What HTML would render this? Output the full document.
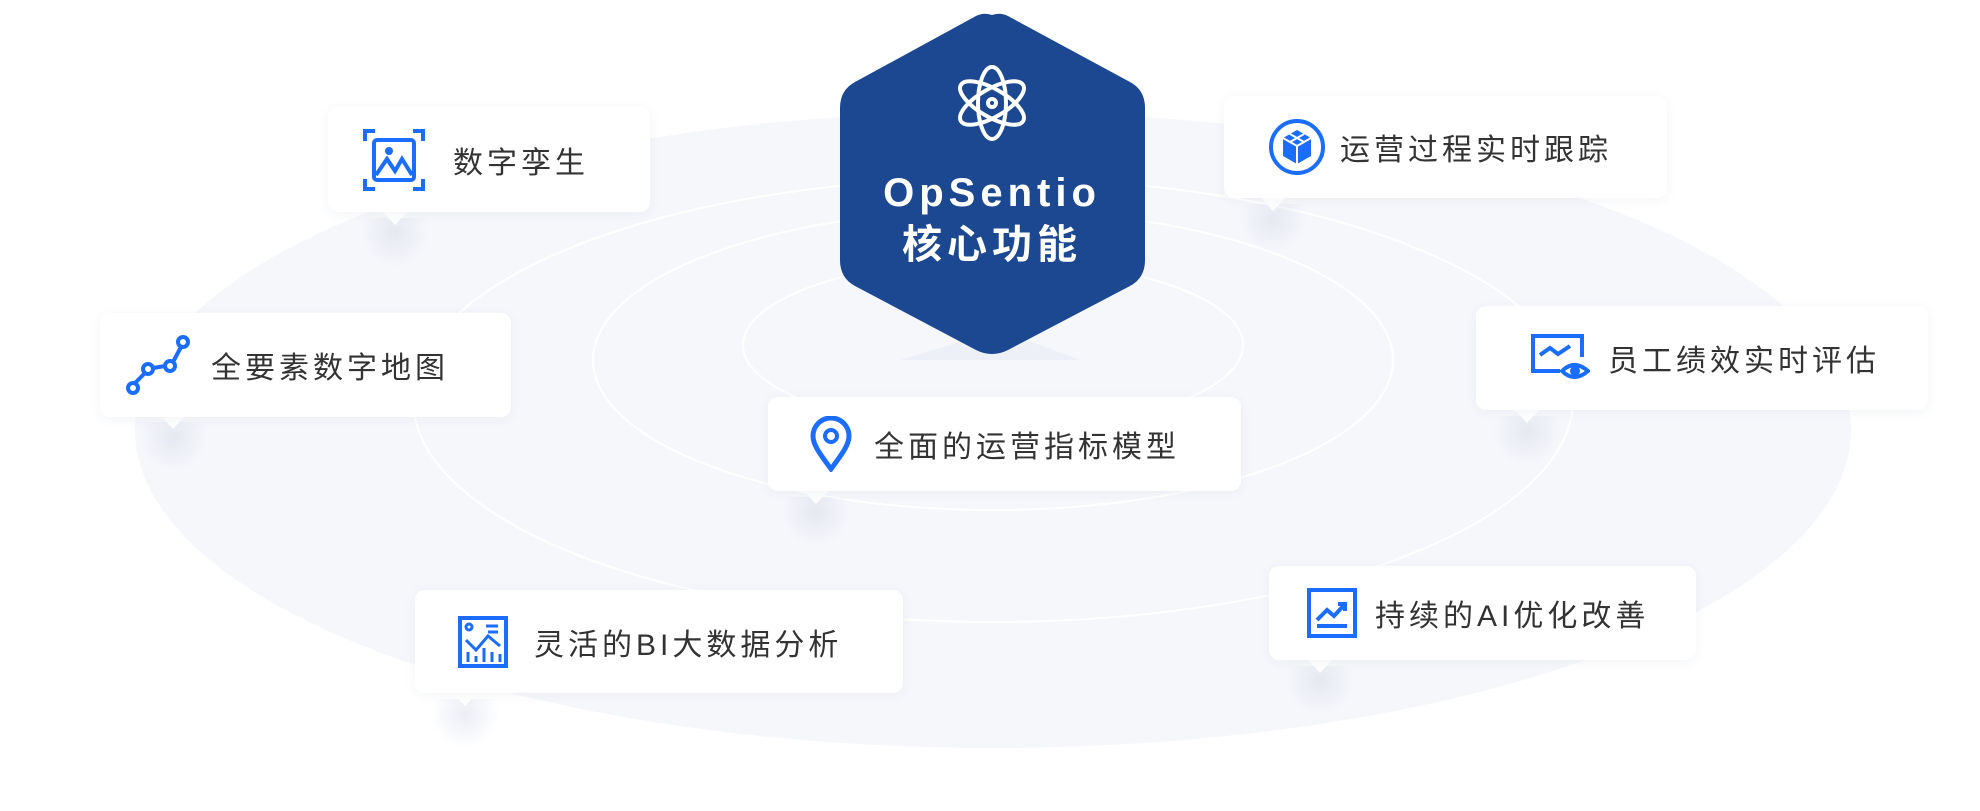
<!DOCTYPE html>
<html><head><meta charset="utf-8"><style>
html,body{margin:0;padding:0;background:#fff;}
body{width:1980px;height:811px;position:relative;overflow:hidden;font-family:"Liberation Sans","Noto Sans CJK SC",sans-serif;}
.card{position:absolute;background:#fff;border-radius:10px;box-shadow:0 2px 12px rgba(40,60,120,0.06);display:flex;align-items:center;color:#333;font-size:30px;letter-spacing:4px;}
.card svg{flex:none;}
.tip{position:absolute;width:0;height:0;border-left:13px solid transparent;border-right:13px solid transparent;border-top:14px solid #fff;}
.shade{position:absolute;width:70px;height:50px;background:radial-gradient(ellipse at 50% 30%,rgba(200,205,225,0.35),rgba(255,255,255,0) 70%);}
</style></head><body>
<svg width="1980" height="811" style="position:absolute;left:0;top:0">
<ellipse cx="993" cy="430" rx="858" ry="318" fill="#f6f7fb"/>
<ellipse cx="993" cy="400" rx="580" ry="222" fill="none" stroke="#fff" stroke-width="2"/>
<ellipse cx="993" cy="360" rx="400" ry="150" fill="none" stroke="#fff" stroke-width="2"/>
<ellipse cx="993" cy="345" rx="250" ry="85" fill="none" stroke="#fff" stroke-width="2"/>
<path d="M900 360 L1080 360 L1000 330 Z" fill="#e8ebf4" opacity="0.6"/>
<path d="M992 15 Q1000 12 1008 16 L1130 82 Q1145 90 1145 108 L1145 260 Q1145 278 1130 286 L1008 350 Q992 358 976 350 L855 286 Q840 278 840 260 L840 108 Q840 90 855 82 L976 16 Q984 12 992 15 Z" fill="#1c4892"/>
<g fill="none" stroke="#fff" stroke-width="4" transform="translate(992,103)">
<ellipse rx="14" ry="36"/>
<ellipse rx="14" ry="36" transform="rotate(60)"/>
<ellipse rx="14" ry="36" transform="rotate(-60)"/>
<circle r="4"/>
</g>
<text x="992" y="206" fill="#fff" font-size="40" font-weight="bold" text-anchor="middle" letter-spacing="5" font-family="Liberation Sans, sans-serif">OpSentio</text>
<text x="992" y="258" fill="#fff" font-size="40" font-weight="bold" text-anchor="middle" letter-spacing="5" font-family="Liberation Sans, Noto Sans CJK SC, sans-serif">核心功能</text>
</svg>

<div class="shade" style="left:360px;top:218px"></div><div class="tip" style="left:382px;top:211px"></div>
<div class="card" style="left:328px;top:107px;width:322px;height:105px;"><svg width="62" height="62" viewBox="0 0 62 62" style="margin-left:35px;margin-right:28px"><g fill="none" stroke="#1a6dff" stroke-width="4"><path d="M2 12V2H12M50 2H60V12M60 50V60H50M12 60H2V50"/><rect x="11" y="11" width="40" height="40" rx="3"/><path d="M13 46L24 30L32 42L39 30L49 46"/></g><circle cx="26" cy="22" r="4" fill="#1a6dff"/></svg>数字孪生</div>

<div class="shade" style="left:1238px;top:204px"></div><div class="tip" style="left:1260px;top:197px"></div>
<div class="card" style="left:1224px;top:96px;width:443px;height:102px;"><svg width="58" height="58" viewBox="0 0 58 58" style="margin-left:44px;margin-right:14px"><circle cx="29" cy="29" r="26" fill="none" stroke="#1a6dff" stroke-width="4"/><path d="M29 12L43 20V38L29 46L15 38V20Z" fill="#1a6dff"/><path d="M15 20L29 28L43 20M29 28V46M22 16L36 24M36 16L22 24" stroke="#fff" stroke-width="2" fill="none"/></svg>运营过程实时跟踪</div>

<div class="shade" style="left:138px;top:422px"></div><div class="tip" style="left:160px;top:415px"></div>
<div class="card" style="left:100px;top:313px;width:411px;height:104px;"><svg width="66" height="66" viewBox="0 0 66 66" style="margin-left:25px;margin-right:20px"><g fill="none" stroke="#1a6dff" stroke-width="4"><circle cx="8" cy="56" r="5"/><circle cx="23" cy="37" r="5"/><circle cx="45" cy="34" r="5"/><circle cx="58" cy="10" r="5"/><path d="M10 51L20 41M28 36L40 34M48 30L56 15"/></g></svg>全要素数字地图</div>

<div class="shade" style="left:1492px;top:416px"></div><div class="tip" style="left:1514px;top:409px"></div>
<div class="card" style="left:1476px;top:306px;width:452px;height:104px;"><svg width="60" height="50" viewBox="0 0 60 50" style="margin-left:54px;margin-right:18px"><g fill="none" stroke="#1a6dff" stroke-width="4"><path d="M30 38H3V3H52V24"/><path d="M10 22L20 15L28 21L40 13"/><path d="M32 38Q44 26 58 38Q44 50 32 38Z"/><circle cx="45" cy="38" r="3" fill="#1a6dff"/></g></svg>员工绩效实时评估</div>

<div class="shade" style="left:781px;top:497px"></div><div class="tip" style="left:803px;top:490px"></div>
<div class="card" style="left:768px;top:397px;width:473px;height:94px;"><svg width="42" height="56" viewBox="0 0 42 56" style="margin-left:42px;margin-right:22px"><path d="M21 53C10 38 3 29 3 20A18 18 0 0 1 39 20C39 29 32 38 21 53Z" fill="none" stroke="#1a6dff" stroke-width="5"/><circle cx="21" cy="20" r="6" fill="none" stroke="#1a6dff" stroke-width="4"/></svg>全面的运营指标模型</div>

<div class="shade" style="left:430px;top:699px"></div><div class="tip" style="left:452px;top:692px"></div>
<div class="card" style="left:415px;top:590px;width:488px;height:103px;"><svg width="50" height="52" viewBox="0 0 50 52" style="margin-left:43px;margin-right:26px"><rect x="2" y="2" width="46" height="48" fill="none" stroke="#1a6dff" stroke-width="4"/><g fill="none" stroke="#1a6dff" stroke-width="3"><circle cx="11" cy="11" r="3"/><path d="M28 10H40M30 16H40M8 24L18 34L30 20L42 30M10 36V46M18 40V46M26 32V46M34 36V46M42 38V46"/></g></svg>灵活的BI大数据分析</div>

<div class="shade" style="left:1285px;top:666px"></div><div class="tip" style="left:1307px;top:659px"></div>
<div class="card" style="left:1269px;top:566px;width:427px;height:94px;"><svg width="50" height="50" viewBox="0 0 50 50" style="margin-left:38px;margin-right:18px"><rect x="2" y="2" width="46" height="46" fill="none" stroke="#1a6dff" stroke-width="4"/><path d="M10 38H40M10 32L20 22L27 28L38 16M31 16H38V23" fill="none" stroke="#1a6dff" stroke-width="4"/></svg>持续的AI优化改善</div>
</body></html>
